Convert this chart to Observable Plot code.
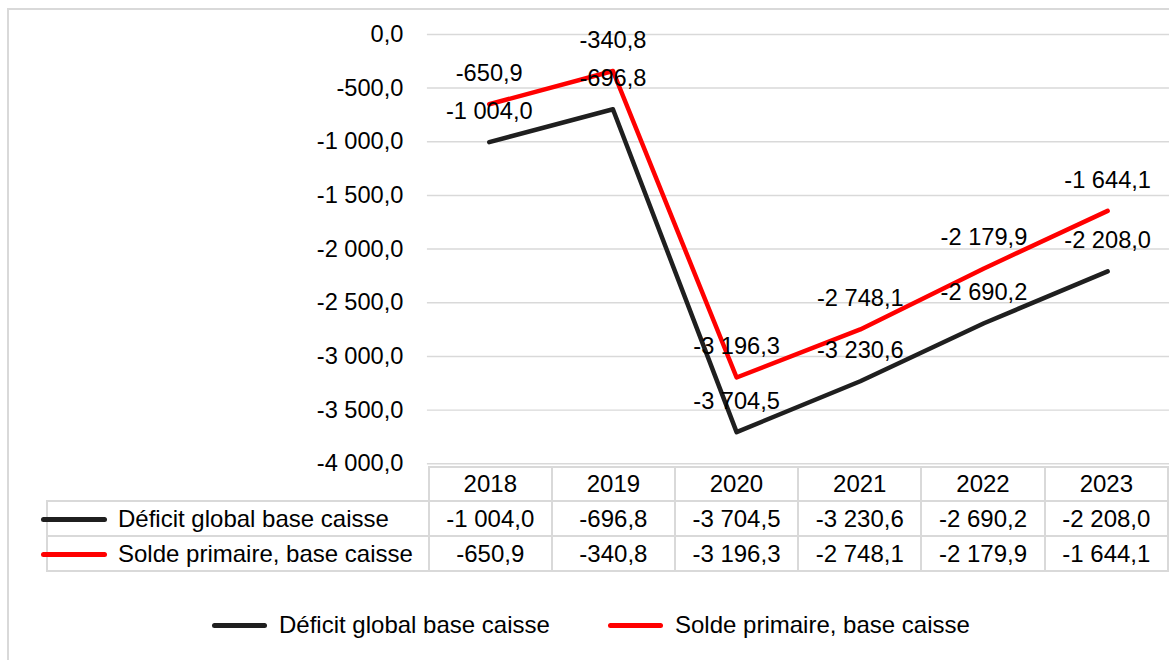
<!DOCTYPE html>
<html>
<head>
<meta charset="utf-8">
<script src="https://cdn.jsdelivr.net/npm/d3@7"></script>
<script src="https://cdn.jsdelivr.net/npm/@observablehq/plot@0.6"></script>
<style>
  html, body { margin: 0; padding: 0; background: #fff; }
  body { width: 1169px; height: 660px; overflow: hidden; position: relative; font-family: "Liberation Sans", Arial, sans-serif; color: #000; }
  #frame { position: absolute; left: 7px; top: 8px; width: 1300px; height: 800px; border: 2px solid #d9d9d9; box-sizing: border-box; }
  #chart { position: absolute; left: 0; top: 0; }
  #tbl { position: absolute; left: 46px; top: 466px; border-collapse: collapse; table-layout: fixed; font-size: 24px; }
  #tbl td { border: 2px solid #d9d9d9; padding: 0; text-align: center; white-space: nowrap; overflow: visible; }
  #tbl td.blank { border: none; }
  #tbl td.lab { text-align: left; position: relative; padding-left: 70px; }
  .key { display: inline-block; width: 66px; height: 5px; border-radius: 3px; position: absolute; left: -7px; top: 50%; margin-top: -2px; }
  #legend { position: absolute; top: 611px; left: 0; font-size: 24px; }
  .litem { position: absolute; white-space: nowrap; }
  .lkey { position: absolute; width: 55px; height: 5px; border-radius: 3px; top: 12px; }
</style>
</head>
<body>
<div id="frame"></div>
<div id="chart"></div>
<table id="tbl"></table>
<div id="legend"></div>
<script>
const years = ["2018", "2019", "2020", "2021", "2022", "2023"];
const seriesNames = ["Déficit global base caisse", "Solde primaire, base caisse"];
const deficitGlobal = [-1004.0, -696.8, -3704.5, -3230.6, -2690.2, -2208.0];
const soldePrimaire = [-650.9, -340.8, -3196.3, -2748.1, -2179.9, -1644.1];
const seriesColors = ["#1f1f1f", "#ff0000"];
const yTicks = [0, -500, -1000, -1500, -2000, -2500, -3000, -3500, -4000];

const fr = d3.formatLocale({decimal: ",", thousands: " ", grouping: [3], currency: ["", ""], minus: "-"});
const fmt = fr.format(",.1f");

const allSeries = [deficitGlobal, soldePrimaire];
const rows = [];
allSeries.forEach((vals, i) => vals.forEach((v, j) => rows.push({series: seriesNames[i], year: years[j], value: v})));

const plot = Plot.plot({
  width: 1172, height: 466,
  marginLeft: 428, marginRight: 0, marginTop: 34, marginBottom: 1.5,
  style: {fontFamily: "'Liberation Sans', Arial, sans-serif", fontSize: "23.7px", color: "#000", background: "transparent", overflow: "visible"},
  x: {type: "point", domain: years, padding: 0.5, axis: null},
  y: {domain: [-4000, 0], axis: null},
  color: {domain: seriesNames, range: seriesColors},
  marks: [
    Plot.gridY(yTicks, {stroke: "#d9d9d9", strokeOpacity: 1, strokeWidth: 1.5}),
    Plot.axisY(yTicks, {tickSize: 0, tickPadding: 24, tickFormat: fmt, label: null, fontSize: 23.7, fill: "#000"}),
    Plot.line(rows, {x: "year", y: "value", z: "series", stroke: "series", strokeWidth: 4.5, strokeLinejoin: "round", strokeLinecap: "round"}),
    Plot.text(rows, {x: "year", y: "value", text: d => fmt(d.value), dy: -31, fill: "#000", fontSize: 23.7})
  ]
});
document.getElementById("chart").appendChild(plot);

// data table below the plot, aligned on the plot's x scale
const xs = plot.scale("x");
const step = xs.apply(years[1]) - xs.apply(years[0]);
const left0 = xs.apply(years[0]) - step / 2;
const tbl = document.getElementById("tbl");
const colgroup = document.createElement("colgroup");
const c0 = document.createElement("col"); c0.style.width = (left0 - 46) + "px"; colgroup.appendChild(c0);
years.forEach(() => { const c = document.createElement("col"); c.style.width = step + "px"; colgroup.appendChild(c); });
tbl.appendChild(colgroup);
const hr = document.createElement("tr"); hr.style.height = "34px";
const blank = document.createElement("td"); blank.className = "blank"; hr.appendChild(blank);
years.forEach(y => { const td = document.createElement("td"); td.textContent = y; hr.appendChild(td); });
tbl.appendChild(hr);
allSeries.forEach((vals, i) => {
  const tr = document.createElement("tr"); tr.style.height = "35px";
  const lab = document.createElement("td"); lab.className = "lab";
  const k = document.createElement("span"); k.className = "key"; k.style.background = seriesColors[i];
  lab.appendChild(k); lab.appendChild(document.createTextNode(seriesNames[i]));
  tr.appendChild(lab);
  vals.forEach(v => { const td = document.createElement("td"); td.textContent = fmt(v); tr.appendChild(td); });
  tbl.appendChild(tr);
});

// bottom legend
const lg = document.getElementById("legend");
const legendX = [212, 608];
seriesNames.forEach((n, i) => {
  const it = document.createElement("div"); it.className = "litem"; it.style.left = legendX[i] + "px";
  const k = document.createElement("span"); k.className = "lkey"; k.style.background = seriesColors[i]; k.style.left = "0px";
  const t = document.createElement("span"); t.textContent = n; t.style.marginLeft = "67px";
  it.appendChild(k); it.appendChild(t); lg.appendChild(it);
});
</script>
</body>
</html>
